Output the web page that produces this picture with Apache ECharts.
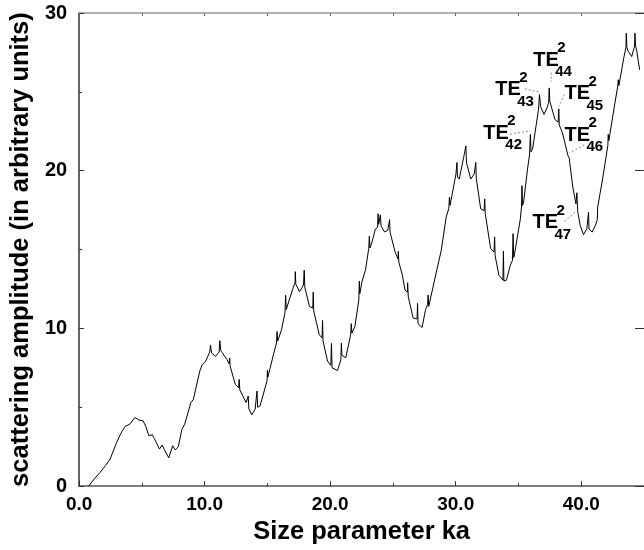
<!DOCTYPE html>
<html>
<head>
<meta charset="utf-8">
<script src="https://cdn.jsdelivr.net/npm/echarts@6/dist/echarts.min.js"></script>
<style>
  html, body { margin: 0; padding: 0; background: #fff; }
  #chart { width: 644px; height: 550px; }
</style>
</head>
<body>
<div id="chart"></div>
<script>
// size parameter ka (x) and scattering amplitude (y)
const ka = [
  0.76, 1.2, 1.68, 2.1, 2.47, 2.99, 3.3, 3.65, 4.04, 4.44, 4.78, 5.09, 5.3, 5.56, 5.83, 6.0, 6.4, 6.61, 6.8, 7.14,
  7.45, 7.66, 7.9, 8.19, 8.4, 8.9, 9.1, 9.61, 9.8, 10.08, 10.4, 10.47, 10.55, 10.87, 11.15, 11.21, 11.28, 11.78, 11.95, 11.99,
  12.03, 12.44, 12.7, 12.75, 12.8, 13.3, 13.47, 13.52, 13.75, 14.02, 14.13, 14.17, 14.22, 14.41, 14.7, 14.97, 15.0, 15.03, 15.5, 15.72,
  15.77, 15.82, 16.12, 16.4, 16.45, 16.5, 16.64, 17.03, 17.2, 17.22, 17.26, 17.56, 17.87, 17.93, 17.98, 18.35, 18.61, 18.65, 18.69, 19.13,
  19.35, 19.39, 19.43, 19.79, 20.05, 20.1, 20.15, 20.58, 20.85, 20.89, 20.93, 21.24, 21.63, 21.68, 21.73, 21.97, 22.28, 22.32, 22.36, 22.54,
  22.81, 23.07, 23.12, 23.17, 23.33, 23.6, 23.78, 23.81, 23.86, 23.97, 24.0, 24.05, 24.33, 24.59, 24.7, 24.73, 24.77, 25.17, 25.4, 25.43,
  25.47, 25.75, 25.96, 26.15, 26.17, 26.22, 26.61, 26.75, 26.92, 26.96, 27.0, 27.32, 27.6, 27.76, 27.8, 27.85, 28.0, 28.58, 28.85, 29.24,
  29.45, 29.5, 29.55, 30.02, 30.08, 30.1, 30.14, 30.28, 30.63, 30.78, 30.81, 30.86, 31.2, 31.47, 31.58, 31.6, 31.64, 31.99, 32.26, 32.31,
  32.35, 32.78, 33.05, 33.1, 33.14, 33.44, 33.76, 33.8, 33.84, 34.04, 34.35, 34.52, 34.57, 34.62, 34.67, 35.15, 35.24, 35.28, 35.32, 35.41,
  35.72, 35.88, 35.95, 36.0, 36.12, 36.6, 36.67, 36.77, 37.03, 37.24, 37.4, 37.45, 37.5, 37.56, 37.9, 38.16, 38.21, 38.25, 38.5, 38.95,
  39.05, 39.08, 39.34, 39.58, 39.65, 39.72, 39.92, 40.18, 40.45, 40.55, 40.58, 40.62, 40.87, 41.13, 41.28, 41.31, 41.39, 41.7, 42.12, 42.15,
  42.2, 42.64, 42.9, 42.95, 43.0, 43.41, 43.56, 43.59, 43.64, 43.75, 44.02, 44.25, 44.28, 44.33, 44.41, 44.65
];
const amp = [
  0.0, 0.45, 0.88, 1.3, 1.72, 2.77, 3.3, 3.78, 3.93, 4.35, 4.18, 4.14, 3.8, 3.19, 3.26, 3.0, 2.35, 2.6, 2.3, 1.79,
  2.56, 2.29, 2.5, 3.61, 3.9, 5.29, 5.5, 7.29, 7.7, 7.92, 8.5, 8.93, 8.44, 8.23, 8.5, 9.22, 8.6, 8.02, 7.75, 8.13,
  7.6, 6.45, 6.24, 6.76, 6.1, 5.3, 5.71, 4.9, 4.52, 4.87, 4.9, 6.03, 5.0, 5.08, 5.9, 6.7, 7.35, 6.9, 8.4, 9.07,
  9.8, 9.2, 9.91, 11.0, 12.1, 11.2, 11.32, 12.54, 12.9, 13.6, 12.8, 12.33, 12.75, 13.7, 12.6, 11.39, 11.28, 12.3, 11.1, 9.6,
  9.39, 10.5, 9.2, 7.92, 7.65, 9.05, 7.5, 7.33, 8.0, 9.07, 8.3, 8.13, 9.6, 10.3, 9.7, 10.12, 11.8, 13.0, 12.2, 13.0,
  13.69, 15.06, 15.85, 15.1, 15.48, 16.3, 16.4, 17.27, 16.6, 16.5, 17.2, 16.5, 16.11, 16.22, 16.3, 16.9, 16.1, 14.85, 14.4, 14.9,
  14.2, 13.38, 12.43, 12.3, 12.9, 12.0, 10.65, 10.54, 10.6, 11.59, 10.3, 10.06, 11.2, 11.5, 12.12, 11.4, 11.28, 14.01, 14.96, 17.06,
  17.6, 18.32, 17.8, 19.79, 19.9, 20.52, 19.6, 19.47, 20.83, 20.8, 21.57, 20.5, 19.47, 19.79, 19.8, 20.52, 19.5, 17.58, 17.47, 18.21,
  17.3, 15.06, 14.85, 15.8, 14.6, 13.38, 13.06, 14.9, 13.0, 13.06, 14.01, 14.3, 16.01, 14.5, 14.64, 16.95, 17.7, 19.05, 17.8, 18.0,
  20.1, 21.0, 22.3, 21.2, 21.36, 23.9, 24.83, 24.05, 23.57, 23.92, 24.3, 25.25, 24.4, 24.51, 23.25, 23.08, 23.92, 22.9, 22.41, 20.94,
  20.8, 20.52, 18.9, 17.9, 18.6, 17.4, 16.53, 15.94, 16.32, 16.4, 17.37, 16.3, 16.11, 16.53, 16.9, 17.69, 17.6, 19.47, 21.6, 22.3,
  21.9, 24.09, 25.31, 25.77, 25.4, 27.24, 27.8, 28.72, 27.8, 27.56, 27.24, 27.9, 28.72, 27.9, 27.66, 26.4
];

// mode labels TE^2_n, anchored in data coordinates
const modeNames = ['42', '43', '44', '45', '46', '47'];
const labelAt = [[32.2, 22.37], [33.15, 25.15], [36.17, 27.0], [38.66, 24.9], [38.66, 22.25], [36.11, 16.7]];
const leaderFrom = [[34.33, 22.31], [35.51, 25.19], [37.61, 26.22], [38.66, 24.83], [40.23, 21.64], [38.66, 16.78]];
const leaderTo = [[35.77, 22.51], [36.65, 24.98], [37.61, 25.65], [38.22, 24.08], [39.05, 21.12], [39.52, 17.38]];

const FONT = '"Liberation Sans", Arial, Helvetica, sans-serif';
const points = ka.map((x, i) => [x, amp[i]]);

const chart = echarts.init(document.getElementById('chart'), null, { renderer: 'canvas' });

const tickLabel = { fontFamily: FONT, fontWeight: 'bold', color: '#000' };
const nameStyle = { fontFamily: FONT, fontWeight: 'bold', fontSize: 25.5, color: '#000' };

chart.setOption({
  animation: false,
  backgroundColor: '#fff',
  grid: { left: 77, right: -5, top: 13, bottom: 61, containLabel: false },
  xAxis: [
    {
      type: 'value', min: 0, max: 45, interval: 10, position: 'bottom',
      name: 'Size parameter ka', nameLocation: 'middle', nameGap: 29,
      nameTextStyle: nameStyle,
      axisLine: { onZero: false, lineStyle: { color: '#555', width: 1.5 } },
      axisTick: { inside: true, length: 5, lineStyle: { color: '#333' } },
      minorTick: { show: true, splitNumber: 2, length: 3, lineStyle: { color: '#333' } },
      axisLabel: Object.assign({ fontSize: 19, margin: 9, showMaxLabel: false, formatter: v => v.toFixed(1) }, tickLabel),
      splitLine: { show: false }
    },
    {
      type: 'value', min: 0, max: 45, interval: 5, position: 'top',
      axisLine: { onZero: false, lineStyle: { color: '#999', width: 1.5 } },
      axisTick: { inside: true, length: 3, lineStyle: { color: '#666' } },
      axisLabel: { show: false },
      splitLine: { show: false }
    }
  ],
  yAxis: [
    {
      type: 'value', min: 0, max: 30, interval: 10, position: 'left',
      name: 'scattering amplitude (in arbitrary units)', nameLocation: 'middle', nameGap: 45,
      nameTextStyle: nameStyle,
      axisLine: { onZero: false, lineStyle: { color: '#333', width: 1.5 } },
      axisTick: { inside: true, length: 5, lineStyle: { color: '#333' } },
      minorTick: { show: true, splitNumber: 2, length: 3, lineStyle: { color: '#333' } },
      axisLabel: Object.assign({ fontSize: 20, margin: 12 }, tickLabel),
      splitLine: { show: false }
    },
    {
      type: 'value', min: 0, max: 30, interval: 10, position: 'right',
      axisLine: { show: false, onZero: false },
      axisTick: { show: true, inside: true, length: 9, lineStyle: { color: '#333' } },
      axisLabel: { show: false },
      splitLine: { show: false }
    }
  ],
  series: [{
    type: 'line',
    data: points,
    showSymbol: false,
    clip: true,
    lineStyle: { color: '#000', width: 1 }
  }]
});

// annotations: convert data anchors to pixels
const px = p => chart.convertToPixel({ xAxisIndex: 0, yAxisIndex: 0 }, p);
const graphics = [];
modeNames.forEach((n, i) => {
  const a = px(labelAt[i]);
  const f = px(leaderFrom[i]);
  const t = px(leaderTo[i]);
  graphics.push({
    type: 'line', silent: true,
    shape: { x1: f[0], y1: f[1], x2: t[0], y2: t[1] },
    style: { stroke: '#888', lineWidth: 1, lineDash: [2, 2] }
  });
  graphics.push({
    type: 'text', silent: true, x: a[0], y: a[1],
    style: { text: 'TE', font: 'bold 20px ' + FONT, fill: '#000', verticalAlign: 'middle', align: 'left' }
  });
  graphics.push({
    type: 'text', silent: true, x: a[0] + 24, y: a[1] - 12,
    style: { text: '2', font: 'bold 15px ' + FONT, fill: '#000', verticalAlign: 'middle', align: 'left' }
  });
  graphics.push({
    type: 'text', silent: true, x: a[0] + 22, y: a[1] + 12,
    style: { text: n, font: 'bold 15px ' + FONT, fill: '#000', verticalAlign: 'middle', align: 'left' }
  });
});
chart.setOption({ graphic: graphics });
</script>
</body>
</html>
